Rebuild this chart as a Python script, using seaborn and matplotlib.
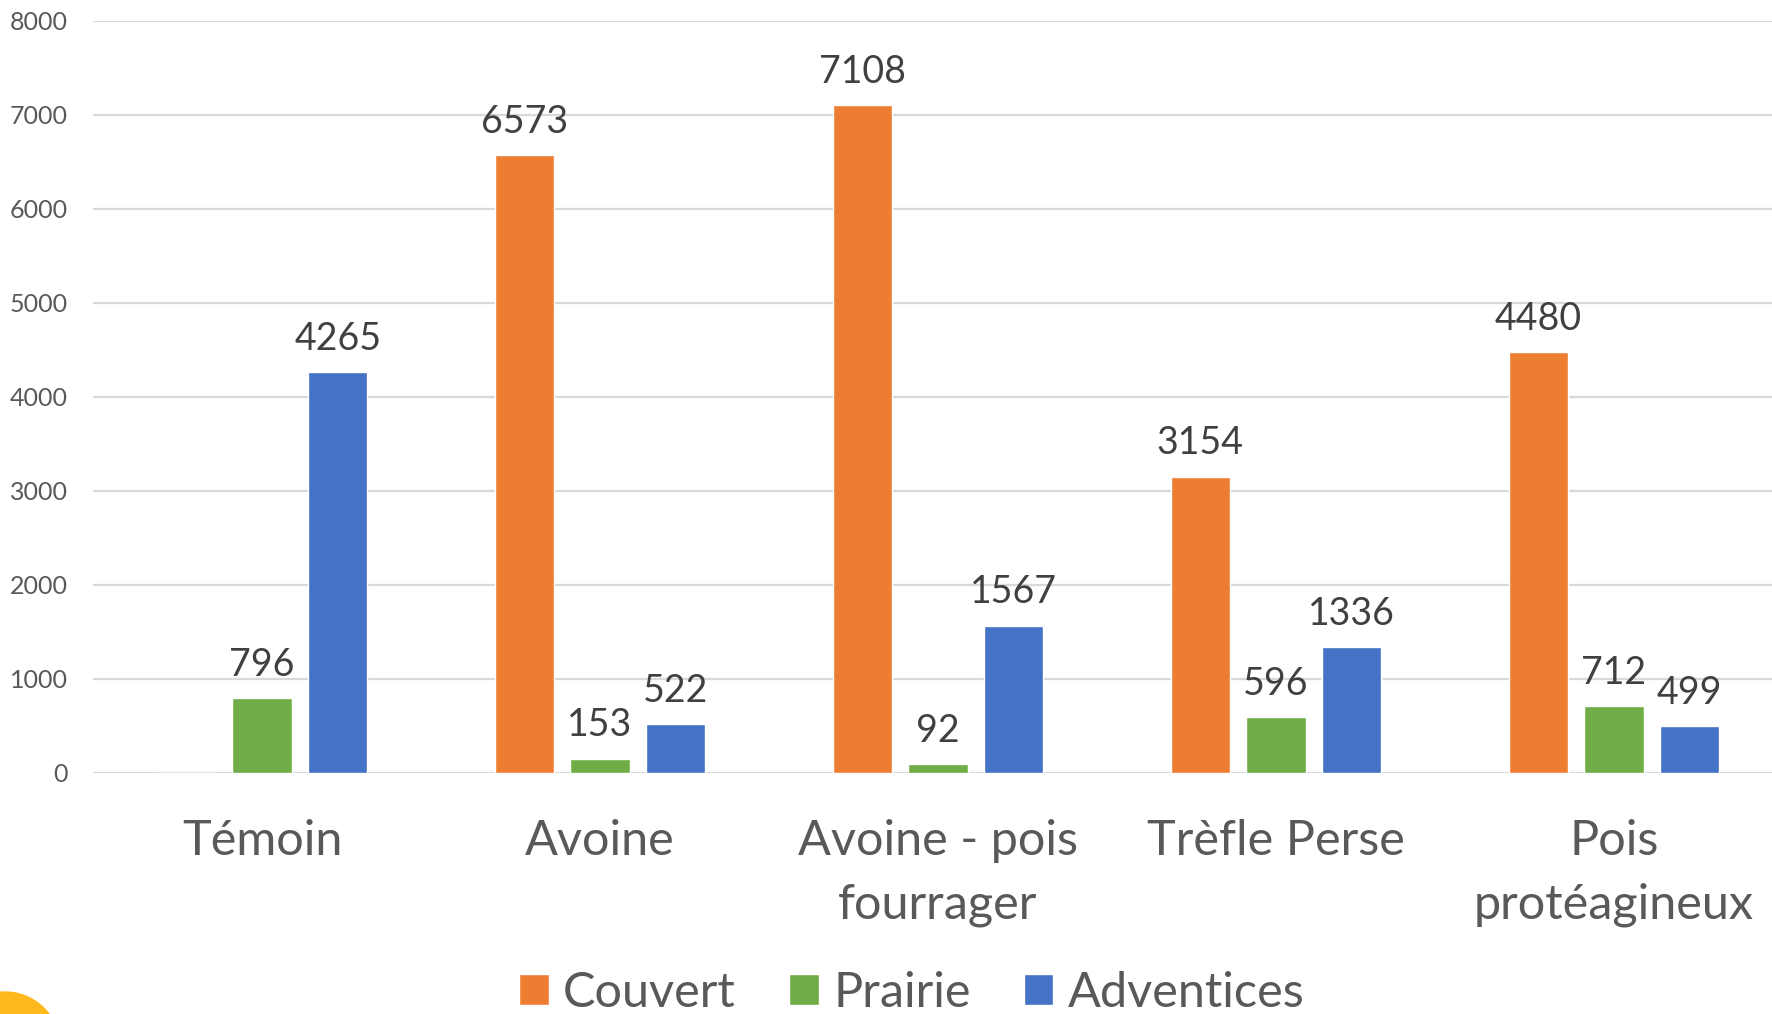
import numpy as np
import pandas as pd
import matplotlib
matplotlib.use("Agg")
import matplotlib.pyplot as plt
from matplotlib.patches import Ellipse
import seaborn as sns

categories = ["Témoin", "Avoine", "Avoine - pois\nfourrager", "Trèfle Perse", "Pois\nprotéagineux"]
series = ["Couvert", "Prairie", "Adventices"]
couvert = [0, 6573, 7108, 3154, 4480]
prairie = [796, 153, 92, 596, 712]
adventices = [4265, 522, 1567, 1336, 499]
colors = ["#ED7D31", "#70AD47", "#4472C4"]

df = pd.DataFrame({
    "cat": categories * 3,
    "serie": np.repeat(series, len(categories)),
    "val": couvert + prairie + adventices,
})

sns.set_theme(style="white")
plt.rcParams["font.family"] = ["Lato", "DejaVu Sans"]

W, H = 1772, 1014
fig = plt.figure(figsize=(W / 100, H / 100), dpi=100)
ax = fig.add_axes([93 / W, 241 / H, 1690 / W, 752 / H])

sns.barplot(data=df, x="cat", y="val", hue="serie", hue_order=series,
            palette=colors, width=0.672, gap=0.22, saturation=1,
            errorbar=None, ax=ax)

ax.set_xlim(-0.5, 4.5)
ax.set_ylim(0, 8000)
ax.set_yticks(np.arange(0, 8001, 1000))
ax.yaxis.grid(True, color="#D9D9D9", linewidth=1.6)
ax.set_axisbelow(True)
for s in ax.spines.values():
    s.set_visible(False)
ax.set_xlabel("")
ax.set_ylabel("")
ax.tick_params(axis="y", length=0, pad=18, labelsize=18, labelcolor="#595959")
ax.tick_params(axis="x", length=0, pad=33, labelsize=35, labelcolor="#595959")
for t in ax.get_xticklabels():
    t.set_linespacing(1.55)

# value labels, skip the empty bar
for cont in ax.containers:
    labels = ["" if v == 0 else f"{v:.0f}" for v in cont.datavalues]
    ax.bar_label(cont, labels=labels, padding=11, fontsize=27, color="#404040")

handles, labels = ax.get_legend_handles_labels()
ax.get_legend().remove()
fig.legend(handles, labels, loc="center", bbox_to_anchor=(912 / W, 1 - 993 / H),
           ncol=3, frameon=False, fontsize=35, labelcolor="#595959",
           handlelength=0.6, handleheight=0.6, handletextpad=0.3,
           columnspacing=1.1)

# decorative circle in the bottom left corner
fig.patches.append(Ellipse((5 / W, 1 - 1047 / H), 110 / W, 110 / H,
                           transform=fig.transFigure, color="#FFB81C",
                           zorder=0))

fig.savefig("out.png", dpi=100)
